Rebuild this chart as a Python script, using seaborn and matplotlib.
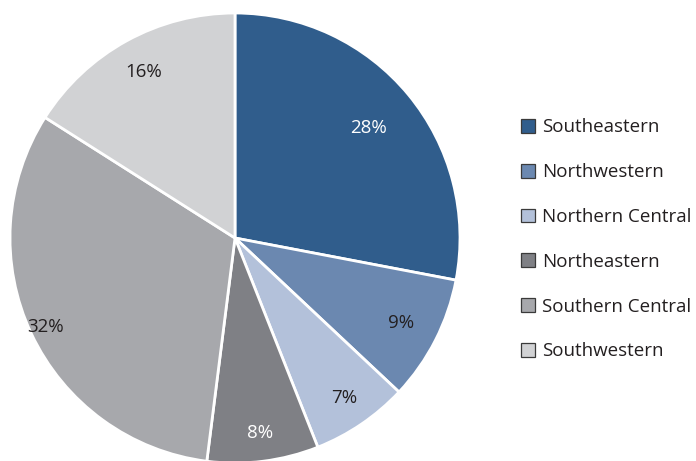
import numpy as np
import matplotlib
matplotlib.use("Agg")
import matplotlib.pyplot as plt
from matplotlib.patches import Patch
import seaborn as sns

regions = ["Southeastern", "Northwestern", "Northern Central",
           "Northeastern", "Southern Central", "Southwestern"]
shares = [28, 9, 7, 8, 32, 16]

colors = ["#305d8c", "#6b88b0", "#b3c1da", "#7f8085", "#a7a8ac", "#d1d2d4"]
label_colors = ["#ffffff", "#231f20", "#231f20", "#ffffff", "#231f20", "#231f20"]
label_radius = [0.77, 0.83, 0.86, 0.875, 0.93, 0.84]

sns.set_theme(style="white")
plt.rcParams["font.family"] = ["Open Sans", "DejaVu Sans"]

W, H = 696, 461
fig = plt.figure(figsize=(W / 100, H / 100), dpi=100)
cx, cy, r = 235, 223, 225
ax = fig.add_axes([(cx - r) / W, (cy - r) / H, 2 * r / W, 2 * r / H])

palette = sns.color_palette(colors)
wedges, _ = ax.pie(shares, colors=palette, startangle=90, counterclock=False,
                   radius=1.0,
                   wedgeprops=dict(edgecolor="white", linewidth=2.0))
ax.set_xlim(-1, 1)
ax.set_ylim(-1, 1)
ax.set_aspect("equal")
ax.axis("off")

# percentage labels at the middle angle of each wedge
total = sum(shares)
cum = 0
for val, lr, lc in zip(shares, label_radius, label_colors):
    mid = 90 - 360 * (cum + val / 2) / total
    cum += val
    ang = np.deg2rad(mid)
    ax.text(lr * np.cos(ang), lr * np.sin(ang), f"{val}%",
            ha="center", va="center", fontsize=13.5, color=lc)

handles = [Patch(facecolor=c, edgecolor="#3a3a3a", linewidth=0.9) for c in colors]
fig.legend(handles, regions, loc="upper left",
           bbox_to_anchor=(512 / W, 1 - 109 / H), frameon=False,
           fontsize=13.5, handlelength=0.75, handleheight=0.75,
           handletextpad=0.35, labelspacing=1.43, borderpad=0,
           labelcolor="#231f20")

fig.savefig("out.png", dpi=100)
